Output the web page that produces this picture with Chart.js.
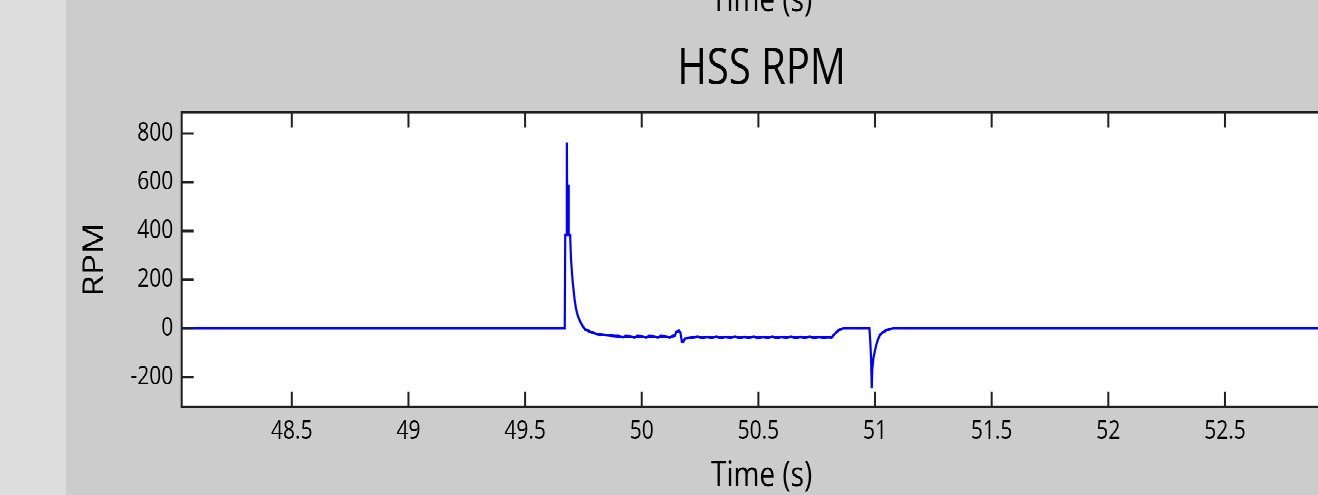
<!DOCTYPE html>
<html>
<head>
<script src="https://cdn.jsdelivr.net/npm/chart.js"></script>
<style>
    html, body {
        margin: 0;
        padding: 0;
        width: 1318px;
        height: 495px;
        overflow: hidden;
        background: #dddddd;
    }
    /* the original screenshot is stretched vertically, so the panel is too */
    .panel {
        position: absolute;
        left: 66px;
        top: 0;
        width: 1300px;
        height: 396px;
        background: #cccccc;
        transform: scaleY(1.25);
        transform-origin: 0 0;
    }
</style>
</head>
<body>
<div class="panel"><canvas id="hss" width="1300" height="396"></canvas></div>

<script>
// time (s) and HSS speed (RPM)
const times = [
    48.000, 49.670, 49.672, 49.677, 49.679, 49.681, 49.683, 49.684, 49.687, 49.693,
    49.697, 49.704, 49.712, 49.718, 49.725, 49.733, 49.745, 49.757, 49.770, 49.785,
    49.800, 49.820, 49.840, 49.860, 49.880, 49.900, 49.920, 49.930, 49.950, 49.970,
    49.980, 50.000, 50.020, 50.030, 50.050, 50.070, 50.080, 50.100, 50.120, 50.130,
    50.142, 50.148, 50.160, 50.166, 50.172, 50.178, 50.185, 50.200, 50.220, 50.240,
    50.260, 50.280, 50.300, 50.320, 50.340, 50.360, 50.380, 50.400, 50.420, 50.440,
    50.460, 50.480, 50.500, 50.520, 50.540, 50.560, 50.580, 50.600, 50.620, 50.640,
    50.660, 50.680, 50.700, 50.720, 50.740, 50.760, 50.780, 50.800, 50.814, 50.825,
    50.836, 50.850, 50.864, 50.976, 50.980, 50.983, 50.986, 50.988, 50.993, 51.000,
    51.007, 51.014, 51.021, 51.035, 51.050, 51.065, 51.078, 53.000
];
const rpm = [
    0, 0, 383, 383, 764, 383, 383, 589, 383, 383,
    280, 191, 120, 82, 55, 34, 12, -4, -10, -16,
    -21, -25, -27, -29, -31, -32, -36, -32, -33, -37,
    -32, -33, -37, -32, -33, -37, -32, -33, -37, -32,
    -30, -14, -10, -18, -55, -55, -42, -40, -37, -34,
    -39, -35, -38, -34, -39, -35, -38, -34, -39, -35,
    -38, -34, -39, -35, -38, -34, -39, -35, -38, -34,
    -39, -35, -38, -34, -39, -35, -38, -36, -37, -25,
    -14, -4, 0, 0, -60, -123, -246, -170, -123, -90,
    -62, -42, -27, -15, -7, -2, 0, 0
];
const xTicks = [48.5, 49, 49.5, 50, 50.5, 51, 51.5, 52, 52.5, 53];
const yTicks = [-200, 0, 200, 400, 600, 800];

const FONT = '"Open Sans", "Noto Sans", sans-serif';
const TXT = '#000000';

// white axes box, MATLAB style inward ticks and the clipped label of the plot above
const frame = {
    id: 'frame',
    beforeDraw(chart) {
        const { ctx, chartArea: a } = chart;
        ctx.save();
        ctx.fillStyle = '#ffffff';
        ctx.fillRect(a.left, a.top, a.right - a.left, a.bottom - a.top);
        ctx.fillStyle = TXT;
        ctx.font = '28px ' + FONT;
        ctx.textAlign = 'center';
        ctx.textBaseline = 'middle';
        ctx.fillText('Time (s)', (a.left + a.right) / 2, 1);
        ctx.restore();
    },
    afterDatasetsDraw(chart) {
        const { ctx, chartArea: a, scales: { x, y } } = chart;
        ctx.save();
        ctx.strokeStyle = '#202020';
        ctx.lineWidth = 2;
        ctx.beginPath();
        x.ticks.forEach(t => {
            const px = x.getPixelForValue(t.value);
            ctx.moveTo(px, a.bottom); ctx.lineTo(px, a.bottom - 12);
            ctx.moveTo(px, a.top); ctx.lineTo(px, a.top + 12);
        });
        y.ticks.forEach(t => {
            const py = y.getPixelForValue(t.value);
            ctx.moveTo(a.left, py); ctx.lineTo(a.left + 12, py);
            ctx.moveTo(a.right, py); ctx.lineTo(a.right - 12, py);
        });
        ctx.stroke();
        ctx.strokeRect(a.left, a.top, a.right - a.left, a.bottom - a.top);
        ctx.restore();
    }
};

new Chart(document.getElementById('hss'), {
    type: 'line',
    data: {
        datasets: [{
            data: times.map((t, i) => ({ x: t, y: rpm[i] })),
            borderColor: '#0000ff',
            borderWidth: 2.2,
            pointRadius: 0,
            tension: 0,
            fill: false
        }]
    },
    options: {
        responsive: false,
        animation: false,
        devicePixelRatio: 2,
        layout: { padding: { left: 0, right: 24.4, top: 0, bottom: 0 }, autoPadding: false },
        plugins: {
            legend: { display: false },
            tooltip: { enabled: false },
            title: {
                display: true,
                text: 'HSS RPM',
                fullSize: false,
                color: '#000000',
                font: { family: FONT, size: 40, weight: 'normal', lineHeight: 1 },
                padding: { top: 35.8, bottom: 14 }
            }
        },
        scales: {
            x: {
                type: 'linear',
                min: 48.028,
                max: 53.0,
                grid: { display: false, drawTicks: false },
                border: { display: false },
                afterBuildTicks: s => { s.ticks = xTicks.map(v => ({ value: v })); },
                ticks: {
                    padding: 7,
                    color: TXT,
                    maxRotation: 0,
                    autoSkip: false,
                    font: { family: FONT, size: 21 },
                    callback: v => String(+(+v).toFixed(2))
                },
                title: {
                    display: true,
                    text: 'Time (s)',
                    color: TXT,
                    font: { family: FONT, size: 28, lineHeight: 1 },
                    padding: { top: 0, bottom: 1 }
                },
                afterFit: s => { s.height = 70.6; }
            },
            y: {
                type: 'linear',
                min: -322,
                max: 887,
                grid: { display: false, drawTicks: false },
                border: { display: false },
                afterBuildTicks: s => { s.ticks = yTicks.map(v => ({ value: v })); },
                ticks: {
                    padding: 8.4,
                    color: TXT,
                    autoSkip: false,
                    font: { family: FONT, size: 21 },
                    callback: v => String(v)
                },
                title: {
                    display: true,
                    text: 'RPM',
                    color: TXT,
                    font: { family: FONT, size: 28, lineHeight: 1 },
                    padding: { top: 15, bottom: 0 }
                },
                afterFit: s => { s.width = 115.7; }
            }
        }
    },
    plugins: [frame]
});
</script>
</body>
</html>
